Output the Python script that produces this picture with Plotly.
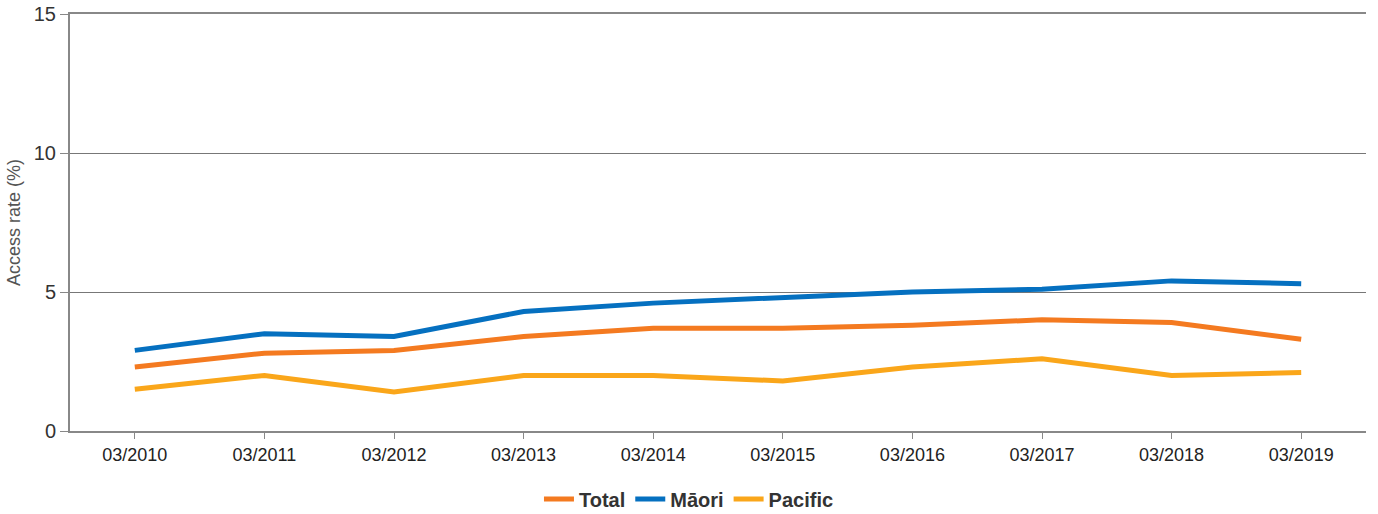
import plotly.graph_objects as go

categories = ["03/2010", "03/2011", "03/2012", "03/2013", "03/2014",
              "03/2015", "03/2016", "03/2017", "03/2018", "03/2019"]
total = [2.3, 2.8, 2.9, 3.4, 3.7, 3.7, 3.8, 4.0, 3.9, 3.3]
maori = [2.9, 3.5, 3.4, 4.3, 4.6, 4.8, 5.0, 5.1, 5.4, 5.3]
pacific = [1.5, 2.0, 1.4, 2.0, 2.0, 1.8, 2.3, 2.6, 2.0, 2.1]
y_ticks = [0, 5, 10, 15]

fig = go.Figure()
for name, vals, col in [("Total", total, "#F47A20"),
                        ("Māori", maori, "#0570C0"),
                        ("Pacific", pacific, "#FAA61A")]:
    fig.add_trace(go.Scatter(x=categories, y=vals, name=name, mode="lines",
                             line=dict(color=col, width=5)))

fig.update_layout(
    width=1378, height=514,
    margin=dict(l=70, r=12, t=14, b=83, autoexpand=False),
    paper_bgcolor="white", plot_bgcolor="white",
    font=dict(family="Liberation Sans, Arial, sans-serif", color="#333333"),
    showlegend=True,
    legend=dict(orientation="h", x=0.4776, xanchor="center", y=-0.163, yanchor="middle",
                font=dict(size=20, color="#333333", family="Liberation Sans, Arial, sans-serif", weight="bold"),
                itemwidth=30, tracegroupgap=0),
    xaxis=dict(type="category", range=[-0.5, 9.5], showgrid=False,
               showline=True, linecolor="#888888", linewidth=2, mirror=True,
               ticks="outside", ticklen=6, tickcolor="#888888",
               tickfont=dict(size=18, color="#222222"), fixedrange=True),
    yaxis=dict(range=[0, 15], tickvals=y_ticks, showgrid=True, gridcolor="#777777", gridwidth=1,
               showline=True, linecolor="#888888", linewidth=2,
               ticks="outside", ticklen=8, tickcolor="#888888",
               tickfont=dict(size=20, color="#333333"), zeroline=False,
               title=dict(text="Access rate (%)", font=dict(size=18, color="#555555"), standoff=8),
               fixedrange=True),
)

fig.write_html("out.html", config={"displayModeBar": False},
               post_script="document.body.style.margin='0';document.body.style.padding='0';")
